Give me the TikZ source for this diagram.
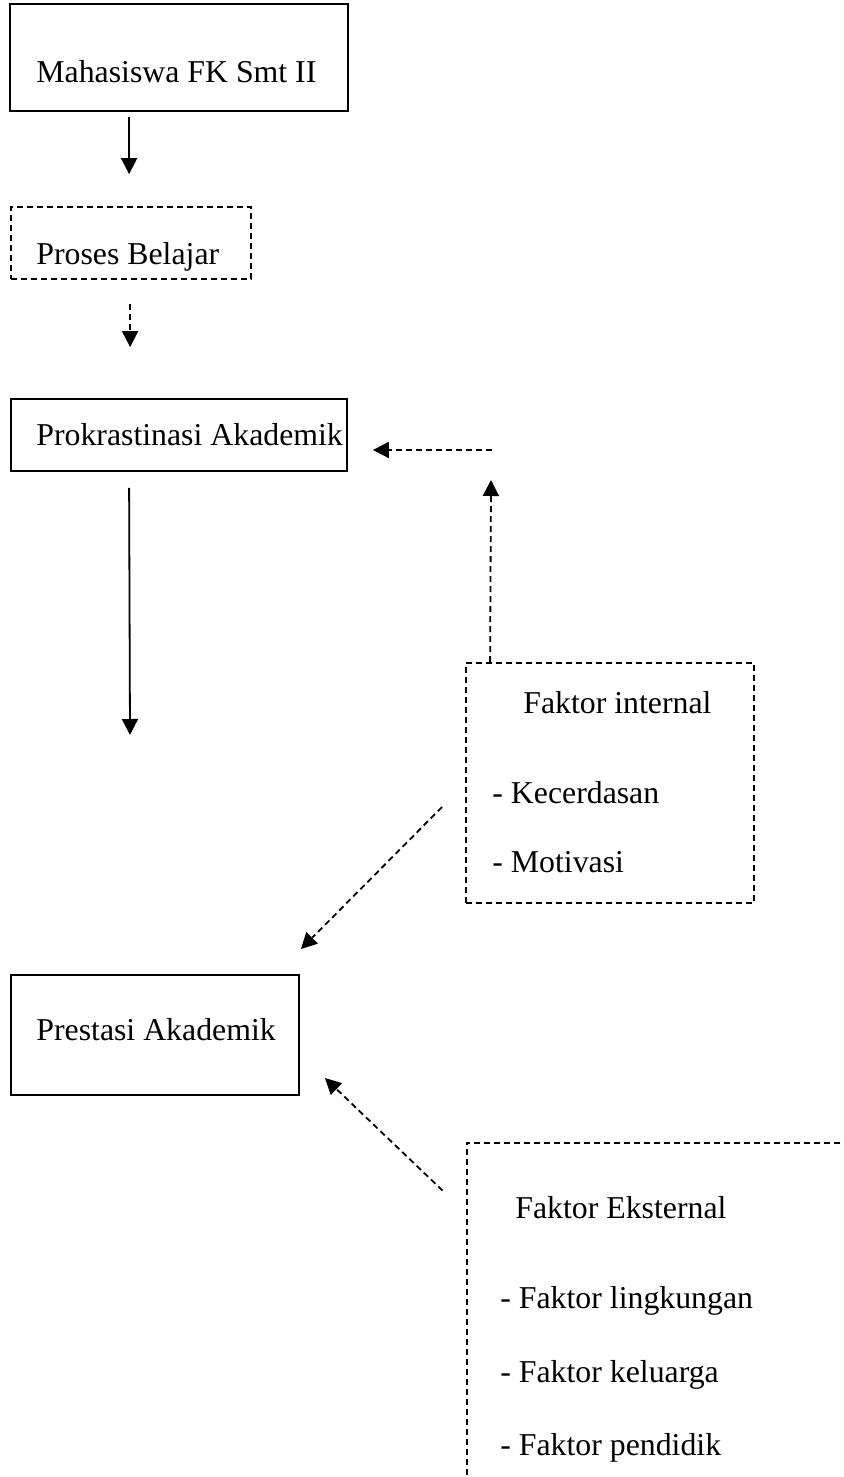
\documentclass[tikz,border=0pt]{standalone}
\usepackage{fontspec}
\setmainfont{Liberation Serif}
\usetikzlibrary{arrows.meta,calc,fit}
\begin{document}
\begin{tikzpicture}[x=0.5pt,y=-0.5pt,
  box/.style={draw,line width=0.9pt,inner sep=0pt},
  dbox/.style={draw,line width=0.9pt,inner sep=0pt,dash pattern=on 3pt off 2pt},
  ghost/.style={inner sep=0pt},
  txt/.style={inner sep=0pt,anchor=base west,font=\fontsize{15.9pt}{18pt}\selectfont},
  arr/.style={line width=0.9pt,-{Triangle[length=8pt,width=8pt]}},
  darr/.style={arr,dash pattern=on 3pt off 2pt}]
\useasboundingbox (0,0) rectangle (843,1477);
\clip (0,0) rectangle (843,1477);
% boxes
\node[box,fit={(10,4) (348,111)}] (b1) {};
\node[dbox,fit={(11,207) (251,279)}] (b2) {};
\node[box,fit={(11,399) (347,471)}] (b3) {};
\node[dbox,fit={(466,663) (754,903)}] (int) {};
\node[box,fit={(11,975) (299,1095)}] (b4) {};
\node[ghost,fit={(467,1143) (870,1495)}] (ext) {};
\draw[line width=0.9pt,dash pattern=on 3pt off 2pt] (ext.north east) -- (ext.north west) -- (ext.south west);
% texts
\node[txt] (t1) at (36,83) {Mahasiswa FK Smt II};
\node[txt] (t2) at (36,264) {Proses Belajar};
\node[txt] (t3) at (36,445) {Prokrastinasi Akademik};
\node[txt] (t4) at (523,713) {Faktor internal};
\node[txt] (t5) at (492,803) {- Kecerdasan};
\node[txt] (t6) at (492,872) {- Motivasi};
\node[txt] (t7) at (36,1040) {Prestasi Akademik};
\node[txt] (t8) at (515,1218) {Faktor Eksternal};
\node[txt] (t9) at (500,1308) {- Faktor lingkungan};
\node[txt] (t10) at (500,1382) {- Faktor keluarga};
\node[txt] (t11) at (500,1455) {- Faktor pendidik};
% free ends
\coordinate (c1) at (492,450);
\coordinate (c2) at (130,735);
\coordinate (c3) at ($(int.west)+(-23,24)$);
\coordinate (c4) at ($(ext.north west)+(-24,48)$);
% connectors
\draw[arr] ($(b1.south west)+(120,5)$) -- ($(b2.north west)+(119,-32)$);
\draw[darr] ($(b2.south west)+(120,24)$) -- ($(b3.north west)+(120,-51)$);
\draw[darr] (c1) -- ($(b3.east |- c1)+(25,0)$);
\draw[darr] ($(int.north west)+(25,0)$) -- ($(c1)+(-1,30)$);
\draw[arr] ($(b3.south west)+(119,16)$) -- (c2);
\draw[darr] (c3) -- ($(b4.north east)+(1,-25)$);
\draw[darr] (c4) -- ($(b4.east)+(25,43)$);
\end{tikzpicture}
\end{document}
